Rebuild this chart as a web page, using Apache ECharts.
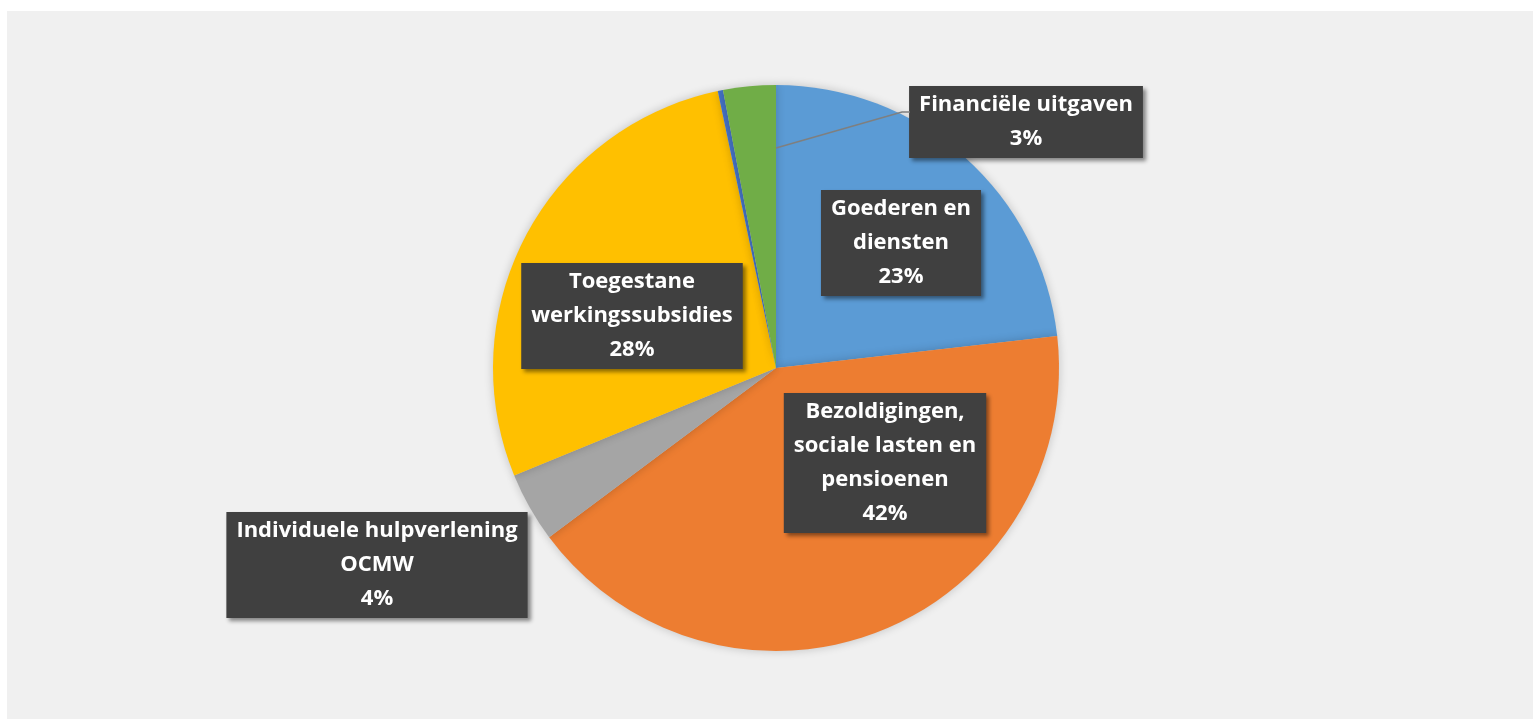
<!DOCTYPE html>
<html>
<head>
<meta charset="utf-8">
<script src="https://cdn.jsdelivr.net/npm/echarts@6/dist/echarts.min.js"></script>
<style>
  html, body { margin: 0; padding: 0; background: #fff; }
  #main { width: 1533px; height: 719px; }
</style>
</head>
<body>
<div id="main"></div>
<script>
// uitgaven per soort (aandeel in %)
var categories = ['Goederen en diensten', 'Bezoldigingen, sociale lasten en pensioenen', 'Individuele hulpverlening OCMW', 'Toegestane werkingssubsidies', 'Overige', 'Financiële uitgaven'];
var values = [23.2, 41.6, 4.0, 27.9, 0.3, 3.0];
// label teksten zoals afgebroken in de grafiek
var labelText = ['Goederen en\ndiensten', 'Bezoldigingen,\nsociale lasten en\npensioenen', 'Individuele hulpverlening\nOCMW', 'Toegestane\nwerkingssubsidies', '', 'Financiële uitgaven'];

var colors = ['#5b9bd5', '#ed7d31', '#a5a5a5', '#ffc000', '#4472c4', '#70ad47'];
// label middelpunten (px)
var labelPos = [[901, 243], [885, 463], [377, 565], [632, 316], null, [1026, 122]];

var chart = echarts.init(document.getElementById('main'));

var data = [];
for (var i = 0; i < categories.length; i++) {
    var item = {name: categories[i], value: values[i], itemStyle: {color: colors[i]}};
    if (!labelText[i]) {
        item.label = {show: false};
    }
    data.push(item);
}

chart.setOption({
    backgroundColor: '#ffffff',
    animation: false,
    graphic: [{
        type: 'rect',
        z: -10,
        silent: true,
        shape: {x: 7, y: 11, width: 1526, height: 708},
        style: {fill: '#f0f0f0'}
    }, {
        // verbindingslijn naar label Financiële uitgaven
        type: 'polyline',
        z: 50,
        silent: true,
        shape: {points: [[776, 148], [902, 112], [910, 112]]},
        style: {stroke: '#7f7f7f', lineWidth: 1.5, fill: null}
    }],
    series: [{
        type: 'pie',
        z: 2,
        center: [776, 368],
        radius: 283,
        startAngle: 90,
        clockwise: true,
        avoidLabelOverlap: false,
        itemStyle: {
            shadowBlur: 10,
            shadowColor: 'rgba(0,0,0,0.2)'
        },
        label: {
            show: true,
            position: 'inside',
            formatter: function (p) {
                return labelText[p.dataIndex] + '\n' + Math.round(p.percent) + '%';
            },
            fontFamily: 'Open Sans',
            fontWeight: 'bold',
            fontSize: 22,
            lineHeight: 34,
            color: '#ffffff',
            align: 'center',
            backgroundColor: '#404040',
            padding: [2, 10, 2, 10],
            shadowBlur: 4,
            shadowOffsetX: 3,
            shadowOffsetY: 3,
            shadowColor: 'rgba(0,0,0,0.45)'
        },
        labelLine: {show: false},
        labelLayout: function (params) {
            var p = labelPos[params.dataIndex];
            if (!p) return {};
            return {x: p[0], y: p[1], align: 'center', verticalAlign: 'middle'};
        },
        data: data
    }]
});
</script>
</body>
</html>
